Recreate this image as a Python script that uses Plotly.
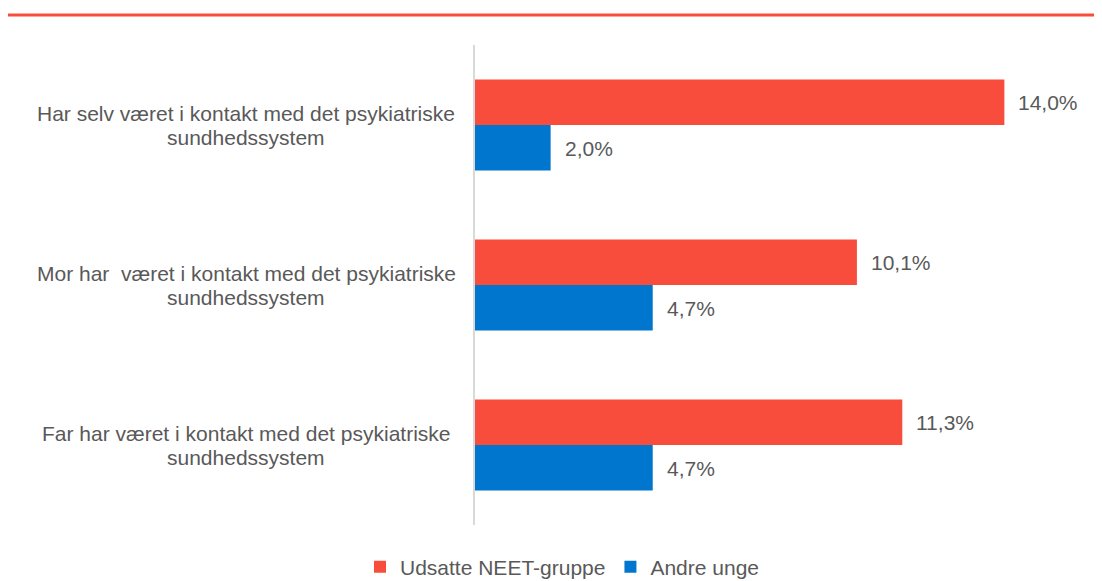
import plotly.graph_objects as go

cat_ids = ["c1", "c2", "c3"]
label_line1 = [
    "Har selv været i kontakt med det psykiatriske",
    "Mor har  været i kontakt med det psykiatriske",
    "Far har været i kontakt med det psykiatriske",
]
label_line2 = ["sundhedssystem", "sundhedssystem", "sundhedssystem"]
neet_values = [14.0, 10.1, 11.3]
andre_values = [2.0, 4.7, 4.7]
series_names = ["Udsatte NEET-gruppe", "Andre unge"]

RED = "#F84C3C"
BLUE = "#0076CE"
GREY = "#595959"
FONT = "Liberation Sans, Arial, sans-serif"
FS = 21

# figure is placed at an 8px page offset
W, H = 1094, 573
L, R_EDGE, T, B_EDGE = 467, 1072, 37, 517
pw = R_EDGE - L
ph = B_EDGE - T

fig = go.Figure()
fig.add_trace(go.Bar(y=cat_ids, x=neet_values, orientation="h", name=series_names[0],
                     marker=dict(color=RED, line=dict(width=0)), hoverinfo="x"))
fig.add_trace(go.Bar(y=cat_ids, x=andre_values, orientation="h", name=series_names[1],
                     marker=dict(color=BLUE, line=dict(width=0)), hoverinfo="x"))

def fmt(v):
    return f"{v:.1f}".replace(".", ",") + "%"

annotations = []
for vals, ys in ((neet_values, 23), (andre_values, -23)):
    for cid, v in zip(cat_ids, vals):
        annotations.append(dict(x=v, y=cid, xref="x", yref="y", text=fmt(v), showarrow=False,
                                xanchor="left", yanchor="middle", xshift=12, yshift=ys,
                                font=dict(family=FONT, size=FS, color=GREY)))
for cid, l1, l2 in zip(cat_ids, label_line1, label_line2):
    for txt, ys in ((l1, 12), (l2, -12)):
        annotations.append(dict(x=(238 - L) / pw, y=cid, xref="paper", yref="y", text=txt,
                                showarrow=False, xanchor="center", yanchor="middle",
                                yshift=ys, font=dict(family=FONT, size=FS, color=GREY)))

fig.update_layout(
    width=W, height=H,
    margin=dict(l=L, r=W - R_EDGE, t=T, b=H - B_EDGE, pad=0),
    paper_bgcolor="white", plot_bgcolor="white",
    barmode="group", bargap=0.43, bargroupgap=0,
    font=dict(family=FONT, size=FS, color=GREY),
    xaxis=dict(range=[0, 16], visible=False, showgrid=False, zeroline=False),
    yaxis=dict(autorange="reversed", showticklabels=False, showgrid=False, zeroline=False,
               showline=True, linecolor="#D9D9D9", linewidth=1.5, ticks=""),
    showlegend=True,
    legend=dict(orientation="h", xref="container", yref="container",
                x=352 / W, y=14 / H, xanchor="left", yanchor="middle",
                font=dict(family=FONT, size=FS, color=GREY),
                itemwidth=30, traceorder="normal"),
    annotations=annotations,
    shapes=[dict(type="line", xref="paper", yref="paper",
                 x0=(0 - L) / pw, x1=(W - L) / pw,
                 y0=(B_EDGE - 7) / ph, y1=(B_EDGE - 7) / ph,
                 line=dict(color=RED, width=3))],
)

fig.write_html("out.html")
